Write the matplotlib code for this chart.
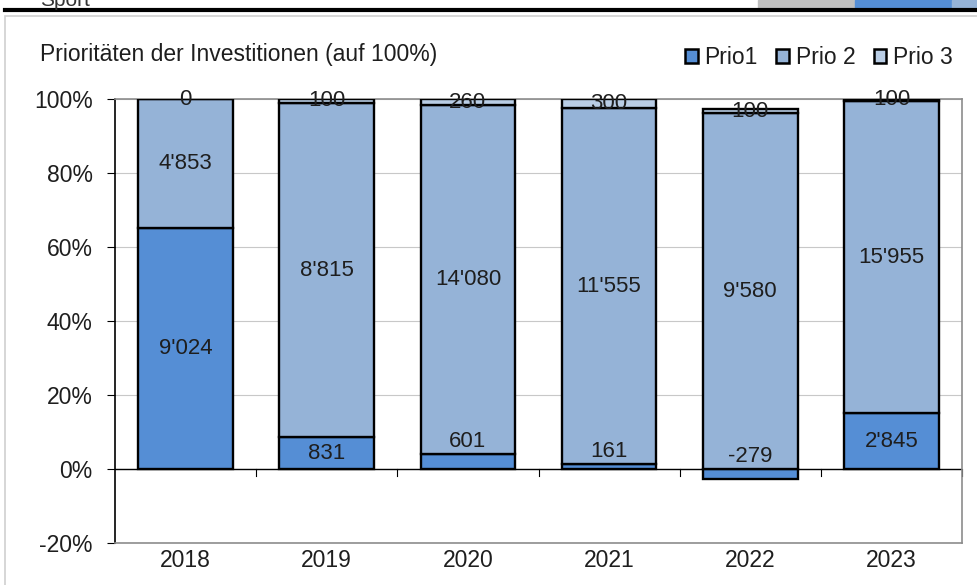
import matplotlib.pyplot as plt
import matplotlib.patches as mpatches
import numpy as np

plt.rcParams['font.family'] = ['Liberation Sans', 'DejaVu Sans']

years = ['2018', '2019', '2020', '2021', '2022', '2023']
prio1 = [9024, 831, 601, 161, -279, 2845]
prio2 = [4853, 8815, 14080, 11555, 9580, 15955]
prio3 = [0, 100, 260, 300, 100, 100]
series = [('Prio1', prio1), ('Prio 2', prio2), ('Prio 3', prio3)]
colors = ['#558ED5', '#95B3D7', '#B9CDE5']
txtc = '#1e1e1e'

def fmt(v):
    return f"{v:,}".replace(",", "'")

fig = plt.figure(figsize=(9.77, 5.85), dpi=100)
ax = fig.add_axes([115/977, 42/585, 847/977, 444/585])

x = np.arange(len(years))
# excel 100% stacked: share of sum of absolute values
tot = np.abs(np.array(prio1)) + np.array(prio2) + np.array(prio3)
pos_base = np.zeros(len(years))
neg_base = np.zeros(len(years))
for (name, vals), c in zip(series, colors):
    v = np.array(vals) / tot * 100
    base = np.where(v >= 0, pos_base, neg_base)
    ax.bar(x, v, 0.67, bottom=base, color=c, edgecolor='black', linewidth=1.7, zorder=3)
    for i in range(len(years)):
        if v[i] < 5 and name == 'Prio1':
            ytxt = max(base[i] + v[i], 0) + 3.3
        else:
            ytxt = base[i] + v[i] / 2
        ax.text(x[i], ytxt, fmt(vals[i]), ha='center', va='center', fontsize=16, color=txtc, zorder=4)
    pos_base = np.where(v >= 0, pos_base + v, pos_base)
    neg_base = np.where(v < 0, neg_base + v, neg_base)

ax.set_xlim(-0.5, 5.5)
ax.set_ylim(-20, 100)
ax.set_yticks(range(-20, 101, 20))
ax.set_yticklabels([f'{t}%' for t in range(-20, 101, 20)], fontsize=16.5, color=txtc)
ax.yaxis.grid(True, color='#c8c8c8', linewidth=0.8, zorder=0)
ax.tick_params(axis='y', length=6, width=0.8, pad=10)
ax.set_xticks([])
for s in ['top', 'right', 'bottom']:
    ax.spines[s].set_color('#8c8c8c')
    ax.spines[s].set_linewidth(1.2)
ax.spines['left'].set_linewidth(1.2)

# horizontal axis at 0 with ticks between categories
ax.axhline(0, color='black', linewidth=1, zorder=2)
for b in np.arange(0.5, 5.6, 1):
    ax.plot([b, b], [0, -1.8], color='black', linewidth=0.8, clip_on=False, zorder=2)
for i, y in enumerate(years):
    ax.text(x[i], -24.8, y, ha='center', va='center', fontsize=16.5, color=txtc)

# title and legend
fig.text(40/977, 1 - 55/585, 'Prioritäten der Investitionen (auf 100%)', fontsize=16.5,
         va='center', color=txtc)
handles = [mpatches.Patch(facecolor=c, edgecolor='black', linewidth=1.8, label=n)
           for (n, _), c in zip(series, colors)]
leg = fig.legend(handles=handles, loc='center right', bbox_to_anchor=(962/977, 1 - 58/585), ncol=3,
                 frameon=False, fontsize=16.5, handlelength=0.55, handleheight=0.55,
                 handletextpad=0.3, columnspacing=0.8, borderaxespad=0)
for t in leg.get_texts():
    t.set_color(txtc)

# page decoration
fig.patches.append(mpatches.Rectangle((5/977, -0.01), 1.0, 1 - 16/585 + 0.01, transform=fig.transFigure,
                                      fill=False, edgecolor='#d0d0d0', linewidth=1.2))
fig.add_artist(plt.Line2D([5/977, 1], [1 - 10/585, 1 - 10/585], color='black', linewidth=3))
fig.patches.append(mpatches.Rectangle((758/977, 1 - 8/585), 97/977, 8/585, transform=fig.transFigure,
                                      color='#bfbfbf'))
fig.patches.append(mpatches.Rectangle((855/977, 1 - 8/585), 97/977, 8/585, transform=fig.transFigure,
                                      color='#558ED5'))
fig.patches.append(mpatches.Rectangle((952/977, 1 - 8/585), 25/977, 8/585, transform=fig.transFigure,
                                      color='#95B3D7'))
fig.text(40/977, 1 - 1/585, 'Sport', fontsize=15, ha='left', va='center', color='#333333')

fig.savefig('out.png', dpi=100)
